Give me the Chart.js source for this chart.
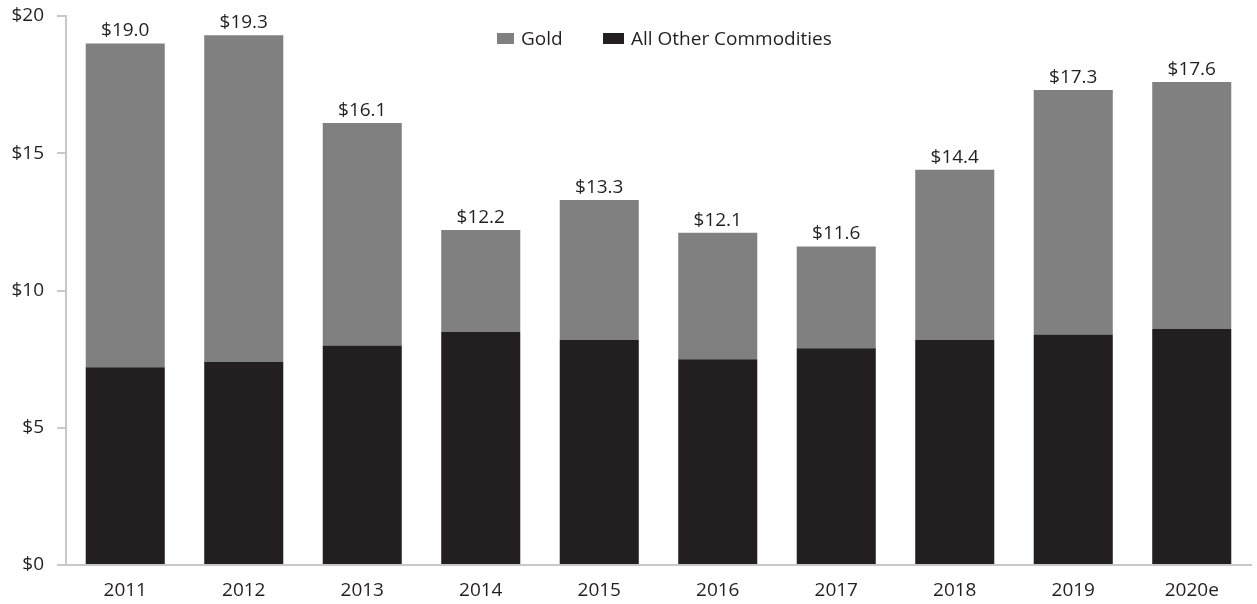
<!DOCTYPE html>
<html>
<head>
<meta charset="utf-8">
<script src="https://cdn.jsdelivr.net/npm/chart.js@4/dist/chart.umd.min.js"></script>
<style>
  html, body { margin: 0; padding: 0; background: #fff; }
  #wrap { width: 1257px; height: 604px; position: relative; }
</style>
</head>
<body>
<div id="wrap"><canvas id="c" width="1257" height="604"></canvas></div>
<script>
// Years on the category axis
const years = ['2011', '2012', '2013', '2014', '2015', '2016', '2017', '2018', '2019', '2020e'];
// Total value per year ($), shown above each stack
const totals = [19.0, 19.3, 16.1, 12.2, 13.3, 12.1, 11.6, 14.4, 17.3, 17.6];
// All other commodities ($), bottom segment
const otherCommodities = [7.2, 7.4, 8.0, 8.5, 8.2, 7.5, 7.9, 8.2, 8.4, 8.6];
// Gold ($), top segment: the remainder of each total
const gold = totals.map((t, i) => +(t - otherCommodities[i]).toFixed(2));
// Y-axis ticks
const yTicks = [0, 5, 10, 15, 20];

const FONT = '"Open Sans", "Liberation Sans", sans-serif';
const FONT_SIZE = 19;
const AXIS_GREY = '#c8c8c8';

// Totals written above each stacked bar
const totalLabels = {
  id: 'totalLabels',
  afterDatasetsDraw(chart) {
    const { ctx } = chart;
    const top = chart.getDatasetMeta(1);
    const y = chart.scales.y;
    ctx.save();
    ctx.font = FONT_SIZE + 'px ' + FONT;
    ctx.fillStyle = '#231f20';
    ctx.textAlign = 'center';
    ctx.textBaseline = 'bottom';
    top.data.forEach((bar, i) => {
      ctx.fillText('$' + totals[i].toFixed(1), bar.x, y.getPixelForValue(totals[i]) - 3);
    });
    ctx.restore();
  }
};

// Legend placed inside the plot area (Gold first, then the bottom series)
const insetLegend = {
  id: 'insetLegend',
  afterDraw(chart) {
    const { ctx } = chart;
    const items = [
      { ds: chart.data.datasets[1], x: 497, w: 17 },
      { ds: chart.data.datasets[0], x: 603, w: 21 }
    ];
    ctx.save();
    ctx.font = FONT_SIZE + 'px ' + FONT;
    ctx.textBaseline = 'middle';
    ctx.textAlign = 'left';
    const yMid = 39;
    items.forEach(({ ds, x, w }) => {
      ctx.fillStyle = ds.backgroundColor;
      ctx.fillRect(x, yMid - 6, w, 11);
      ctx.fillStyle = '#231f20';
      ctx.fillText(ds.label, x + w + 7, yMid + 1);
    });
    ctx.restore();
  }
};

new Chart(document.getElementById('c'), {
  type: 'bar',
  data: {
    labels: years,
    datasets: [
      { label: 'All Other Commodities', data: otherCommodities, backgroundColor: '#231f20' },
      { label: 'Gold', data: gold, backgroundColor: '#808080' }
    ]
  },
  options: {
    responsive: false,
    animation: false,
    devicePixelRatio: 1,
    layout: { padding: { top: 16, right: 6, left: 0, bottom: 0 } },
    plugins: { legend: { display: false }, tooltip: { enabled: false } },
    datasets: { bar: { barPercentage: 0.667, categoryPercentage: 1 } },
    scales: {
      x: {
        stacked: true,
        grid: { display: false, drawTicks: false },
        border: { display: true, color: AXIS_GREY, width: 2 },
        ticks: { color: '#231f20', font: { family: FONT, size: FONT_SIZE }, padding: 14 },
        afterFit(s) { s.height = 39; s.paddingLeft = 0; s.paddingRight = 0; }
      },
      y: {
        stacked: true,
        min: 0,
        max: 20,
        afterBuildTicks(s) { s.ticks = yTicks.map(v => ({ value: v })); },
        grid: { drawOnChartArea: false, drawTicks: true, tickLength: 9, color: AXIS_GREY, lineWidth: 2 },
        border: { display: true, color: AXIS_GREY, width: 2 },
        ticks: {
          color: '#231f20',
          font: { family: FONT, size: FONT_SIZE },
          padding: 13,
          callback: v => '$' + v
        },
        afterFit(s) { s.width = 66; s.paddingTop = 0; s.paddingBottom = 0; }
      }
    }
  },
  plugins: [totalLabels, insetLegend]
});
</script>
</body>
</html>
